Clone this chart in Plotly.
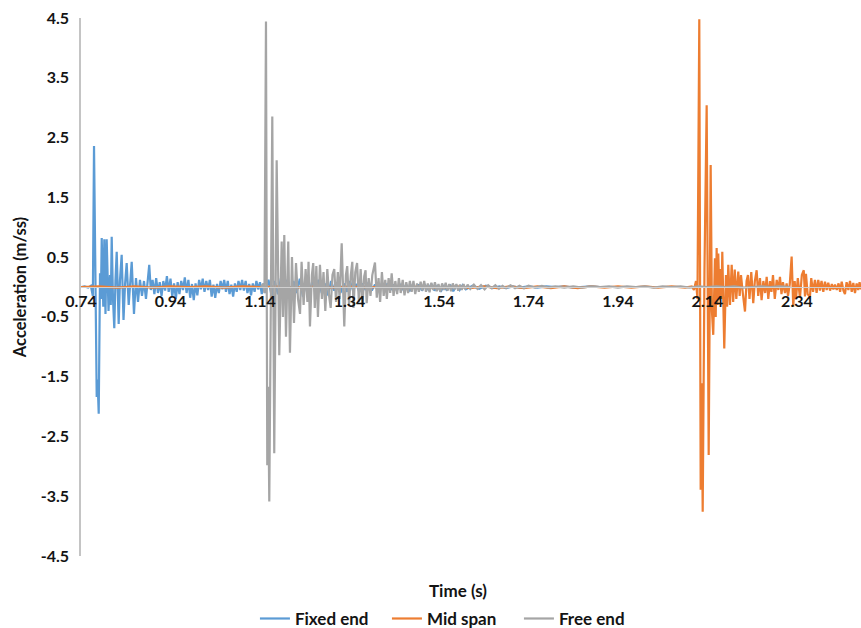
import plotly.graph_objects as go

# Accelerometer records: (time in s, acceleration in m/s^2)
fixed_end = [
    (0.740, 0.00), (0.748, 0.01), (0.756, -0.01), (0.762, 0.02), (0.7665, -0.15),
    (0.7691, 2.36), (0.7751, -1.84), (0.7770, -1.55), (0.7796, -2.12), (0.7825, 0.23),
    (0.7845, -0.20), (0.7863, 0.82), (0.7898, -0.33), (0.7921, 0.80), (0.7947, -0.45),
    (0.7974, 0.80), (0.8015, -0.40), (0.8048, 0.20), (0.8065, -0.30), (0.8086, 0.84),
    (0.8115, -0.20), (0.8144, -0.69), (0.8170, 0.10), (0.8198, 0.59), (0.8242, -0.62),
    (0.8270, 0.10), (0.8309, 0.54), (0.8350, -0.55), (0.8385, 0.05), (0.8421, 0.40),
    (0.8466, -0.30), (0.8500, 0.10), (0.8533, 0.42), (0.8584, -0.45), (0.8610, 0.05),
    (0.8629, 0.15), (0.8674, -0.25), (0.8718, 0.12), (0.8763, -0.15), (0.8808, 0.10),
    (0.8852, -0.20), (0.8885, 0.05), (0.8925, 0.37), (0.8960, -0.05), (0.900, 0.12),
    (0.904, -0.12), (0.908, 0.15), (0.912, -0.10), (0.916, 0.08), (0.920, -0.15),
    (0.924, 0.10), (0.928, -0.06), (0.932, 0.18), (0.936, -0.08), (0.940, 0.14),
    (0.944, -0.16), (0.948, 0.06), (0.952, -0.20), (0.956, 0.08), (0.960, -0.12),
    (0.964, 0.10), (0.968, -0.05), (0.972, 0.16), (0.976, -0.10), (0.980, 0.12),
    (0.984, -0.18), (0.988, 0.05), (0.992, -0.22), (0.996, 0.06), (1.000, -0.14),
    (1.004, 0.12), (1.008, -0.04), (1.012, 0.14), (1.016, -0.08), (1.020, 0.10),
    (1.024, -0.05), (1.028, 0.12), (1.032, -0.16), (1.036, 0.04), (1.040, -0.18),
    (1.044, 0.05), (1.048, -0.10), (1.052, 0.10), (1.056, -0.04), (1.060, 0.12),
    (1.064, -0.08), (1.068, 0.10), (1.072, -0.12), (1.076, 0.04), (1.080, -0.16),
    (1.084, 0.06), (1.088, -0.08), (1.092, 0.10), (1.096, -0.05), (1.100, 0.12),
    (1.104, -0.06), (1.108, 0.10), (1.112, -0.10), (1.116, 0.05), (1.120, -0.14),
    (1.124, 0.06), (1.128, -0.08), (1.132, 0.10), (1.136, -0.04), (1.140, 0.08),
    (1.144, -0.12), (1.148, 0.06), (1.152, -0.10), (1.159, 0.12), (1.166, -0.15),
    (1.173, 0.10), (1.180, -0.12), (1.187, 0.15), (1.194, -0.08), (1.201, 0.12),
    (1.208, -0.14), (1.215, 0.10), (1.222, -0.10), (1.229, 0.14), (1.236, -0.16),
    (1.243, 0.08), (1.250, -0.12), (1.257, 0.10), (1.264, -0.08), (1.271, 0.12),
    (1.278, -0.10), (1.285, 0.06), (1.292, -0.14), (1.299, 0.10), (1.306, -0.06),
    (1.313, 0.08), (1.320, -0.10), (1.327, 0.06), (1.334, -0.08), (1.341, 0.10),
    (1.348, -0.06), (1.355, 0.05), (1.362, -0.08), (1.369, 0.06), (1.376, -0.05),
    (1.383, 0.08), (1.390, -0.06), (1.397, 0.04), (1.404, -0.07), (1.411, 0.05),
    (1.418, -0.04), (1.425, 0.06), (1.432, -0.05), (1.439, 0.04), (1.446, -0.06),
    (1.453, 0.05), (1.460, -0.04), (1.467, 0.04), (1.474, -0.07), (1.481, 0.03),
    (1.488, -0.05), (1.495, 0.04), (1.502, -0.06), (1.509, 0.03), (1.516, -0.04),
    (1.523, 0.05), (1.530, -0.06), (1.537, 0.03), (1.544, -0.08), (1.551, 0.03),
    (1.558, -0.06), (1.565, 0.04), (1.572, -0.07), (1.579, 0.02), (1.586, -0.05),
    (1.593, 0.03), (1.600, -0.04), (1.615, 0.02), (1.630, -0.03), (1.645, 0.02),
    (1.660, -0.02), (1.675, 0.01), (1.690, -0.02), (1.705, 0.01), (1.720, -0.01),
    (1.740, 0.01), (1.760, -0.01), (1.780, 0.01), (1.800, 0.00), (1.820, 0.01),
    (1.840, -0.01), (1.860, 0.00), (1.880, 0.01), (1.900, 0.00),
]

mid_span = [
    (0.740, 0.00), (0.780, 0.01), (0.820, -0.01), (0.860, 0.01), (0.900, -0.01),
    (0.940, 0.01), (0.980, 0.00), (1.020, 0.01), (1.060, -0.01), (1.100, 0.01),
    (1.140, 0.00), (1.180, 0.01), (1.220, -0.01), (1.260, 0.01), (1.300, -0.01),
    (1.340, 0.01), (1.380, -0.01), (1.420, 0.01), (1.460, -0.01), (1.500, 0.01),
    (1.540, -0.02), (1.580, 0.01), (1.610, -0.02), (1.640, 0.01), (1.670, -0.02),
    (1.700, 0.01), (1.730, -0.02), (1.760, 0.01), (1.790, -0.02), (1.820, 0.01),
    (1.850, -0.02), (1.880, 0.01), (1.910, -0.01), (1.940, 0.01), (1.970, -0.01),
    (2.000, 0.01), (2.030, -0.01), (2.060, 0.01), (2.090, -0.01), (2.1050, 0.01),
    (2.1099, -0.05), (2.1144, 0.10), (2.1177, -0.20), (2.1218, 4.48), (2.1249, -3.39),
    (2.1271, -1.61), (2.1294, -3.76), (2.1334, 0.30), (2.1383, 3.04), (2.1428, -2.81),
    (2.1472, 2.04), (2.1500, -0.40), (2.1530, -0.80), (2.1550, 0.20), (2.1568, 0.48),
    (2.1585, -0.50), (2.1606, 0.65), (2.1625, -0.30), (2.1642, 0.56), (2.1670, -0.22),
    (2.1696, 0.30), (2.1715, -0.20), (2.1732, 0.59), (2.1776, -1.03), (2.1814, 0.20),
    (2.1840, -0.33), (2.1866, 0.37), (2.1904, -0.30), (2.1942, 0.37), (2.1975, -0.25),
    (2.2010, 0.29), (2.2045, -0.20), (2.2089, 0.26), (2.2120, -0.15), (2.2150, 0.20),
    (2.2190, -0.10), (2.2239, -0.41), (2.2275, 0.10), (2.2306, 0.20), (2.2340, -0.20),
    (2.2380, 0.25), (2.2424, -0.27), (2.2460, 0.10), (2.2500, 0.28), (2.2535, -0.15),
    (2.2574, 0.15), (2.2610, -0.22), (2.2650, 0.10), (2.2690, -0.10), (2.2724, 0.17),
    (2.2760, -0.20), (2.2798, 0.10), (2.2830, -0.08), (2.2865, 0.20), (2.2905, -0.20),
    (2.2948, 0.12), (2.2985, -0.05), (2.3021, 0.17), (2.3055, -0.12), (2.3088, 0.08),
    (2.3133, -0.10), (2.3170, 0.06), (2.3200, -0.15), (2.3240, 0.05), (2.3282, 0.51),
    (2.3318, -0.33), (2.3350, 0.10), (2.3378, -0.20), (2.3420, 0.15), (2.3468, -0.18),
    (2.3510, 0.20), (2.3553, 0.28), (2.3580, -0.16), (2.3602, 0.22), (2.3640, -0.12),
    (2.3691, -0.16), (2.3720, 0.15), (2.3760, -0.08), (2.3803, 0.12), (2.3840, -0.10),
    (2.3877, 0.12), (2.3915, -0.06), (2.3950, 0.10), (2.3990, -0.08), (2.4027, 0.09),
    (2.4065, -0.05), (2.4100, 0.07), (2.4140, -0.06), (2.4180, 0.05), (2.4215, -0.04),
    (2.4251, 0.04), (2.4290, -0.05), (2.4330, 0.06), (2.4365, -0.08), (2.4401, 0.09),
    (2.4440, -0.06), (2.4474, -0.12), (2.4510, 0.08), (2.4550, -0.05), (2.4586, 0.10),
    (2.4625, -0.08), (2.4660, 0.07), (2.4698, -0.10), (2.4735, 0.06), (2.4770, -0.05),
    (2.4800, 0.08), (2.4832, -0.04),
]

free_end = [
    (1.1420, 0.00), (1.1470, 0.05), (1.1500, -0.10), (1.1534, 4.44), (1.1563, -2.98),
    (1.1583, -1.67), (1.1608, -3.59), (1.1675, 2.85), (1.1719, -2.78), (1.1773, 2.12),
    (1.1831, -1.14), (1.1885, 0.76), (1.1914, -0.50), (1.1943, 0.87), (1.1981, -0.83),
    (1.2032, 0.76), (1.2070, -1.10), (1.2115, 0.50), (1.2160, -0.60), (1.2205, 0.40),
    (1.2250, -0.20), (1.2295, -0.45), (1.2330, 0.42), (1.2375, -0.30), (1.2420, 0.30),
    (1.2460, -0.25), (1.2485, 0.42), (1.2517, -0.66), (1.2560, 0.20), (1.2590, 0.40),
    (1.2625, -0.35), (1.2660, 0.35), (1.2695, -0.50), (1.2740, 0.37), (1.2785, -0.20),
    (1.2820, 0.25), (1.2860, -0.40), (1.2905, 0.30), (1.2945, -0.15), (1.2980, -0.35),
    (1.3020, 0.20), (1.3060, 0.30), (1.3100, -0.25), (1.3140, 0.25), (1.3180, -0.20),
    (1.3226, 0.73), (1.3284, -0.66), (1.3320, 0.20), (1.3350, 0.35), (1.3390, -0.30),
    (1.3430, 0.20), (1.3463, 0.42), (1.3490, -0.35), (1.3530, 0.25), (1.3570, 0.40),
    (1.3610, -0.25), (1.3650, 0.30), (1.3690, -0.30), (1.3730, 0.18), (1.3760, 0.28),
    (1.3784, -0.27), (1.3830, 0.15), (1.3870, -0.15), (1.3910, 0.20), (1.3970, 0.41),
    (1.4010, -0.18), (1.4050, 0.15), (1.4085, -0.25), (1.4125, 0.25), (1.4165, -0.15),
    (1.4200, 0.12), (1.4235, -0.20), (1.4275, 0.15), (1.4310, -0.10), (1.4343, 0.23),
    (1.4385, -0.15), (1.4425, 0.10), (1.4465, -0.12), (1.4505, 0.15), (1.4545, -0.10),
    (1.4590, 0.12), (1.4630, -0.14), (1.4670, 0.08), (1.4710, -0.10), (1.4750, 0.10),
    (1.4790, -0.08), (1.4830, 0.10), (1.4870, -0.12), (1.4910, 0.06), (1.4950, -0.08),
    (1.4990, 0.09), (1.5030, -0.06), (1.5070, 0.10), (1.5110, -0.08), (1.5150, 0.06),
    (1.5190, -0.09), (1.5230, 0.07), (1.5270, -0.05), (1.5310, 0.08), (1.5350, -0.07),
    (1.5390, 0.05), (1.5430, -0.08), (1.5470, 0.06), (1.5510, -0.05), (1.5550, 0.07),
    (1.5590, -0.06), (1.5630, 0.05), (1.5670, -0.07), (1.5710, 0.06), (1.5750, -0.04),
    (1.5790, 0.05), (1.5830, -0.06), (1.5870, 0.04), (1.5910, -0.05), (1.5950, 0.05),
    (1.5990, -0.04), (1.6040, 0.04), (1.610, -0.03), (1.618, 0.04), (1.626, -0.03),
    (1.634, 0.03), (1.642, -0.04), (1.650, 0.03), (1.658, -0.02), (1.666, 0.03),
    (1.674, -0.03), (1.682, 0.02), (1.690, -0.02), (1.700, 0.03), (1.710, -0.02),
    (1.720, 0.02), (1.730, -0.02), (1.740, 0.02), (1.755, -0.01), (1.770, 0.02),
    (1.785, -0.01), (1.800, 0.01), (1.820, -0.01), (1.840, 0.01), (1.860, -0.01),
    (1.880, 0.01), (1.900, 0.00), (1.920, 0.01), (1.940, -0.01), (1.960, 0.01),
    (1.980, 0.00), (2.000, 0.01), (2.020, -0.01), (2.040, 0.01), (2.060, 0.00),
    (2.080, 0.01), (2.100, -0.01), (2.120, 0.01), (2.140, 0.00), (2.160, 0.01),
    (2.180, 0.00), (2.200, 0.01), (2.220, -0.01), (2.240, 0.00), (2.260, 0.01),
    (2.280, 0.00), (2.300, 0.01), (2.3244, 0.00),
]

x_ticks = [0.74, 0.94, 1.14, 1.34, 1.54, 1.74, 1.94, 2.14, 2.34]
y_ticks = [-4.5, -3.5, -2.5, -1.5, -0.5, 0.5, 1.5, 2.5, 3.5, 4.5]
x_range = [0.74, 2.4832]
y_range = [-4.5, 4.5]

series = [
    ("Fixed end", fixed_end, "#5B9BD5"),
    ("Mid span", mid_span, "#ED7D31"),
    ("Free end", free_end, "#A5A5A5"),
]

FONT = "Lato"
TEXT = "#141414"

fig = go.Figure()
for name, data, color in series:
    t, a = zip(*data)
    fig.add_trace(go.Scatter(
        x=list(t), y=list(a), mode="lines", name=name,
        line=dict(color=color, width=2.2),
    ))

fig.update_layout(
    width=861, height=628,
    margin=dict(l=81, r=0, t=18, b=72, autoexpand=False),
    paper_bgcolor="white", plot_bgcolor="white",
    font=dict(family=FONT, color=TEXT),
    showlegend=True,
    legend=dict(
        orientation="h", x=0.223, xanchor="left", y=-0.117, yanchor="middle",
        font=dict(family=FONT, size=17, color=TEXT, weight="bold"),
        itemwidth=30, tracegroupgap=0, entrywidth=87, entrywidthmode="pixels",
    ),
    xaxis=dict(
        range=x_range, anchor="free", position=0.5,
        tickmode="array", tickvals=x_ticks, ticktext=[f"{v:.2f}" for v in x_ticks],
        showline=True, linecolor="#d0d0d0", linewidth=1,
        showgrid=False, zeroline=False, ticks="",
        tickfont=dict(family=FONT, size=16, color=TEXT, weight="bold"),
    ),
    yaxis=dict(
        range=y_range, domain=[0, 1],
        tickmode="array", tickvals=y_ticks, ticktext=[f"{v:.1f}" for v in y_ticks],
        showline=True, linecolor="#c4c4c4", linewidth=1.5,
        showgrid=False, zeroline=False, ticks="", ticklabelstandoff=7,
        tickfont=dict(family=FONT, size=16, color=TEXT, weight="bold"),
        title=dict(text="Acceleration (m/ss)", standoff=10,
                   font=dict(family=FONT, size=16.5, color=TEXT, weight="bold")),
    ),
    annotations=[dict(
        text="Time (s)", xref="paper", yref="paper", x=0.483, y=-0.065,
        xanchor="center", yanchor="middle", showarrow=False,
        font=dict(family=FONT, size=17, color=TEXT, weight="bold"),
    )],
)

fig.write_html("out.html")
